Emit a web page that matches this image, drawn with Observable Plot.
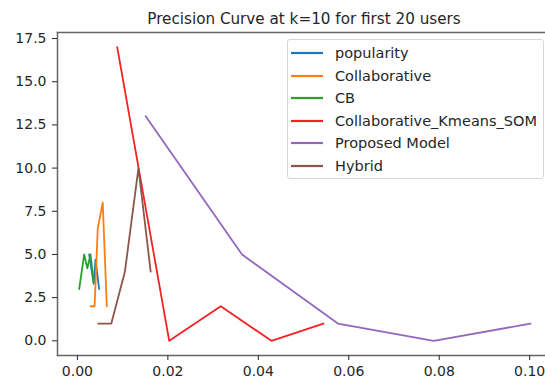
<!DOCTYPE html>
<html>
<head>
<meta charset="utf-8">
<script src="https://cdn.jsdelivr.net/npm/d3@7"></script>
<script src="https://cdn.jsdelivr.net/npm/@observablehq/plot@0.6"></script>
<style>
  html, body { margin: 0; padding: 0; background: #fff; overflow: hidden; }
  #wrap { position: relative; width: 545px; height: 383px; font-family: "DejaVu Sans", sans-serif; color: #262626; }
  #title { position: absolute; left: 0; top: 12px; width: 608px; text-align: center; font-size: 15.2px; line-height: 15px; white-space: nowrap; }
  #chart { position: absolute; left: 0; top: 30px; }
  #legend { position: absolute; left: 287px; top: 39px; width: 257px; height: 140px; box-sizing: border-box;
            border: 1px solid #d6d6d6; border-radius: 3px; background: rgba(255,255,255,0.85); font-size: 14.5px; }
  .row { position: absolute; left: 0; height: 22px; display: flex; align-items: center; white-space: nowrap; }
  .row svg { margin-left: 3px; margin-right: 12px; }
</style>
</head>
<body>
<div id="wrap">
  <div id="title">Precision Curve at k=10 for first 20 users</div>
  <div id="chart"></div>
  <div id="legend"></div>
</div>
<script>
// ---- data ----
const seriesNames = ["popularity", "Collaborative", "CB", "Collaborative_Kmeans_SOM", "Proposed Model", "Hybrid"];
const seriesColors = ["#1f77b4", "#ff7f0e", "#2ca02c", "#f42222", "#9467bd", "#8c564b"];

const popularityX = [0.0026, 0.0036, 0.0040, 0.0048];
const popularityY = [5, 3.3, 4.7, 3];

const collaborativeX = [0.0029, 0.0038, 0.0045, 0.0056, 0.0065];
const collaborativeY = [2, 2, 6.5, 8, 2];

const cbX = [0.0004, 0.0015, 0.0022, 0.0029, 0.0036];
const cbY = [3, 5, 4.2, 5, 3.4];

const kmeansSomX = [0.0088, 0.0203, 0.0317, 0.0429, 0.0544];
const kmeansSomY = [17, 0, 2, 0, 1];

const proposedX = [0.0151, 0.0364, 0.0576, 0.0788, 0.1002];
const proposedY = [13, 5, 1, 0, 1];

const hybridX = [0.0046, 0.0075, 0.0105, 0.0135, 0.0162];
const hybridY = [1, 1, 4, 10, 4];

const xTicks = [0, 0.02, 0.04, 0.06, 0.08, 0.10];
const yTicks = [0, 2.5, 5, 7.5, 10, 12.5, 15, 17.5];

// ---- build tidy rows ----
const xs = [popularityX, collaborativeX, cbX, kmeansSomX, proposedX, hybridX];
const ys = [popularityY, collaborativeY, cbY, kmeansSomY, proposedY, hybridY];
const rows = [];
seriesNames.forEach((name, i) => {
  xs[i].forEach((x, j) => rows.push({series: name, x, y: ys[i][j]}));
});

const spine = {stroke: "#666", strokeWidth: 1.5};

const chart = Plot.plot({
  width: 545,
  height: 353,
  marginLeft: 57,
  marginRight: 0,
  marginTop: 2,
  marginBottom: 28,
  style: {fontFamily: "DejaVu Sans, sans-serif", fontSize: "14px", color: "#262626", background: "transparent"},
  x: {domain: [-0.0044, 0.1035]},
  y: {domain: [-0.85, 17.85]},
  color: {domain: seriesNames, range: seriesColors},
  marks: [
    Plot.line(rows, {x: "x", y: "y", z: "series", stroke: "series", strokeWidth: 1.8}),
    Plot.frame({anchor: "left", ...spine}),
    Plot.frame({anchor: "bottom", ...spine}),
    Plot.frame({anchor: "top", ...spine}),
    Plot.axisX({ticks: xTicks, tickFormat: d3.format(".2f"), tickSize: 5, tickPadding: 6, label: null, fontSize: 14}),
    Plot.axisY({ticks: yTicks, tickFormat: d3.format(".1f"), tickSize: 5, tickPadding: 6, label: null, fontSize: 14})
  ]
});
document.getElementById("chart").appendChild(chart);

// ---- legend (inside axes, upper right) ----
const legend = document.getElementById("legend");
seriesNames.forEach((name, i) => {
  const row = document.createElement("div");
  row.className = "row";
  row.style.top = (2 + i * 22.6) + "px";
  row.innerHTML = `<svg width="32" height="4"><line x1="0" x2="32" y1="2" y2="2" stroke="${seriesColors[i]}" stroke-width="2.2"/></svg><span>${name}</span>`;
  legend.appendChild(row);
});
</script>
</body>
</html>
